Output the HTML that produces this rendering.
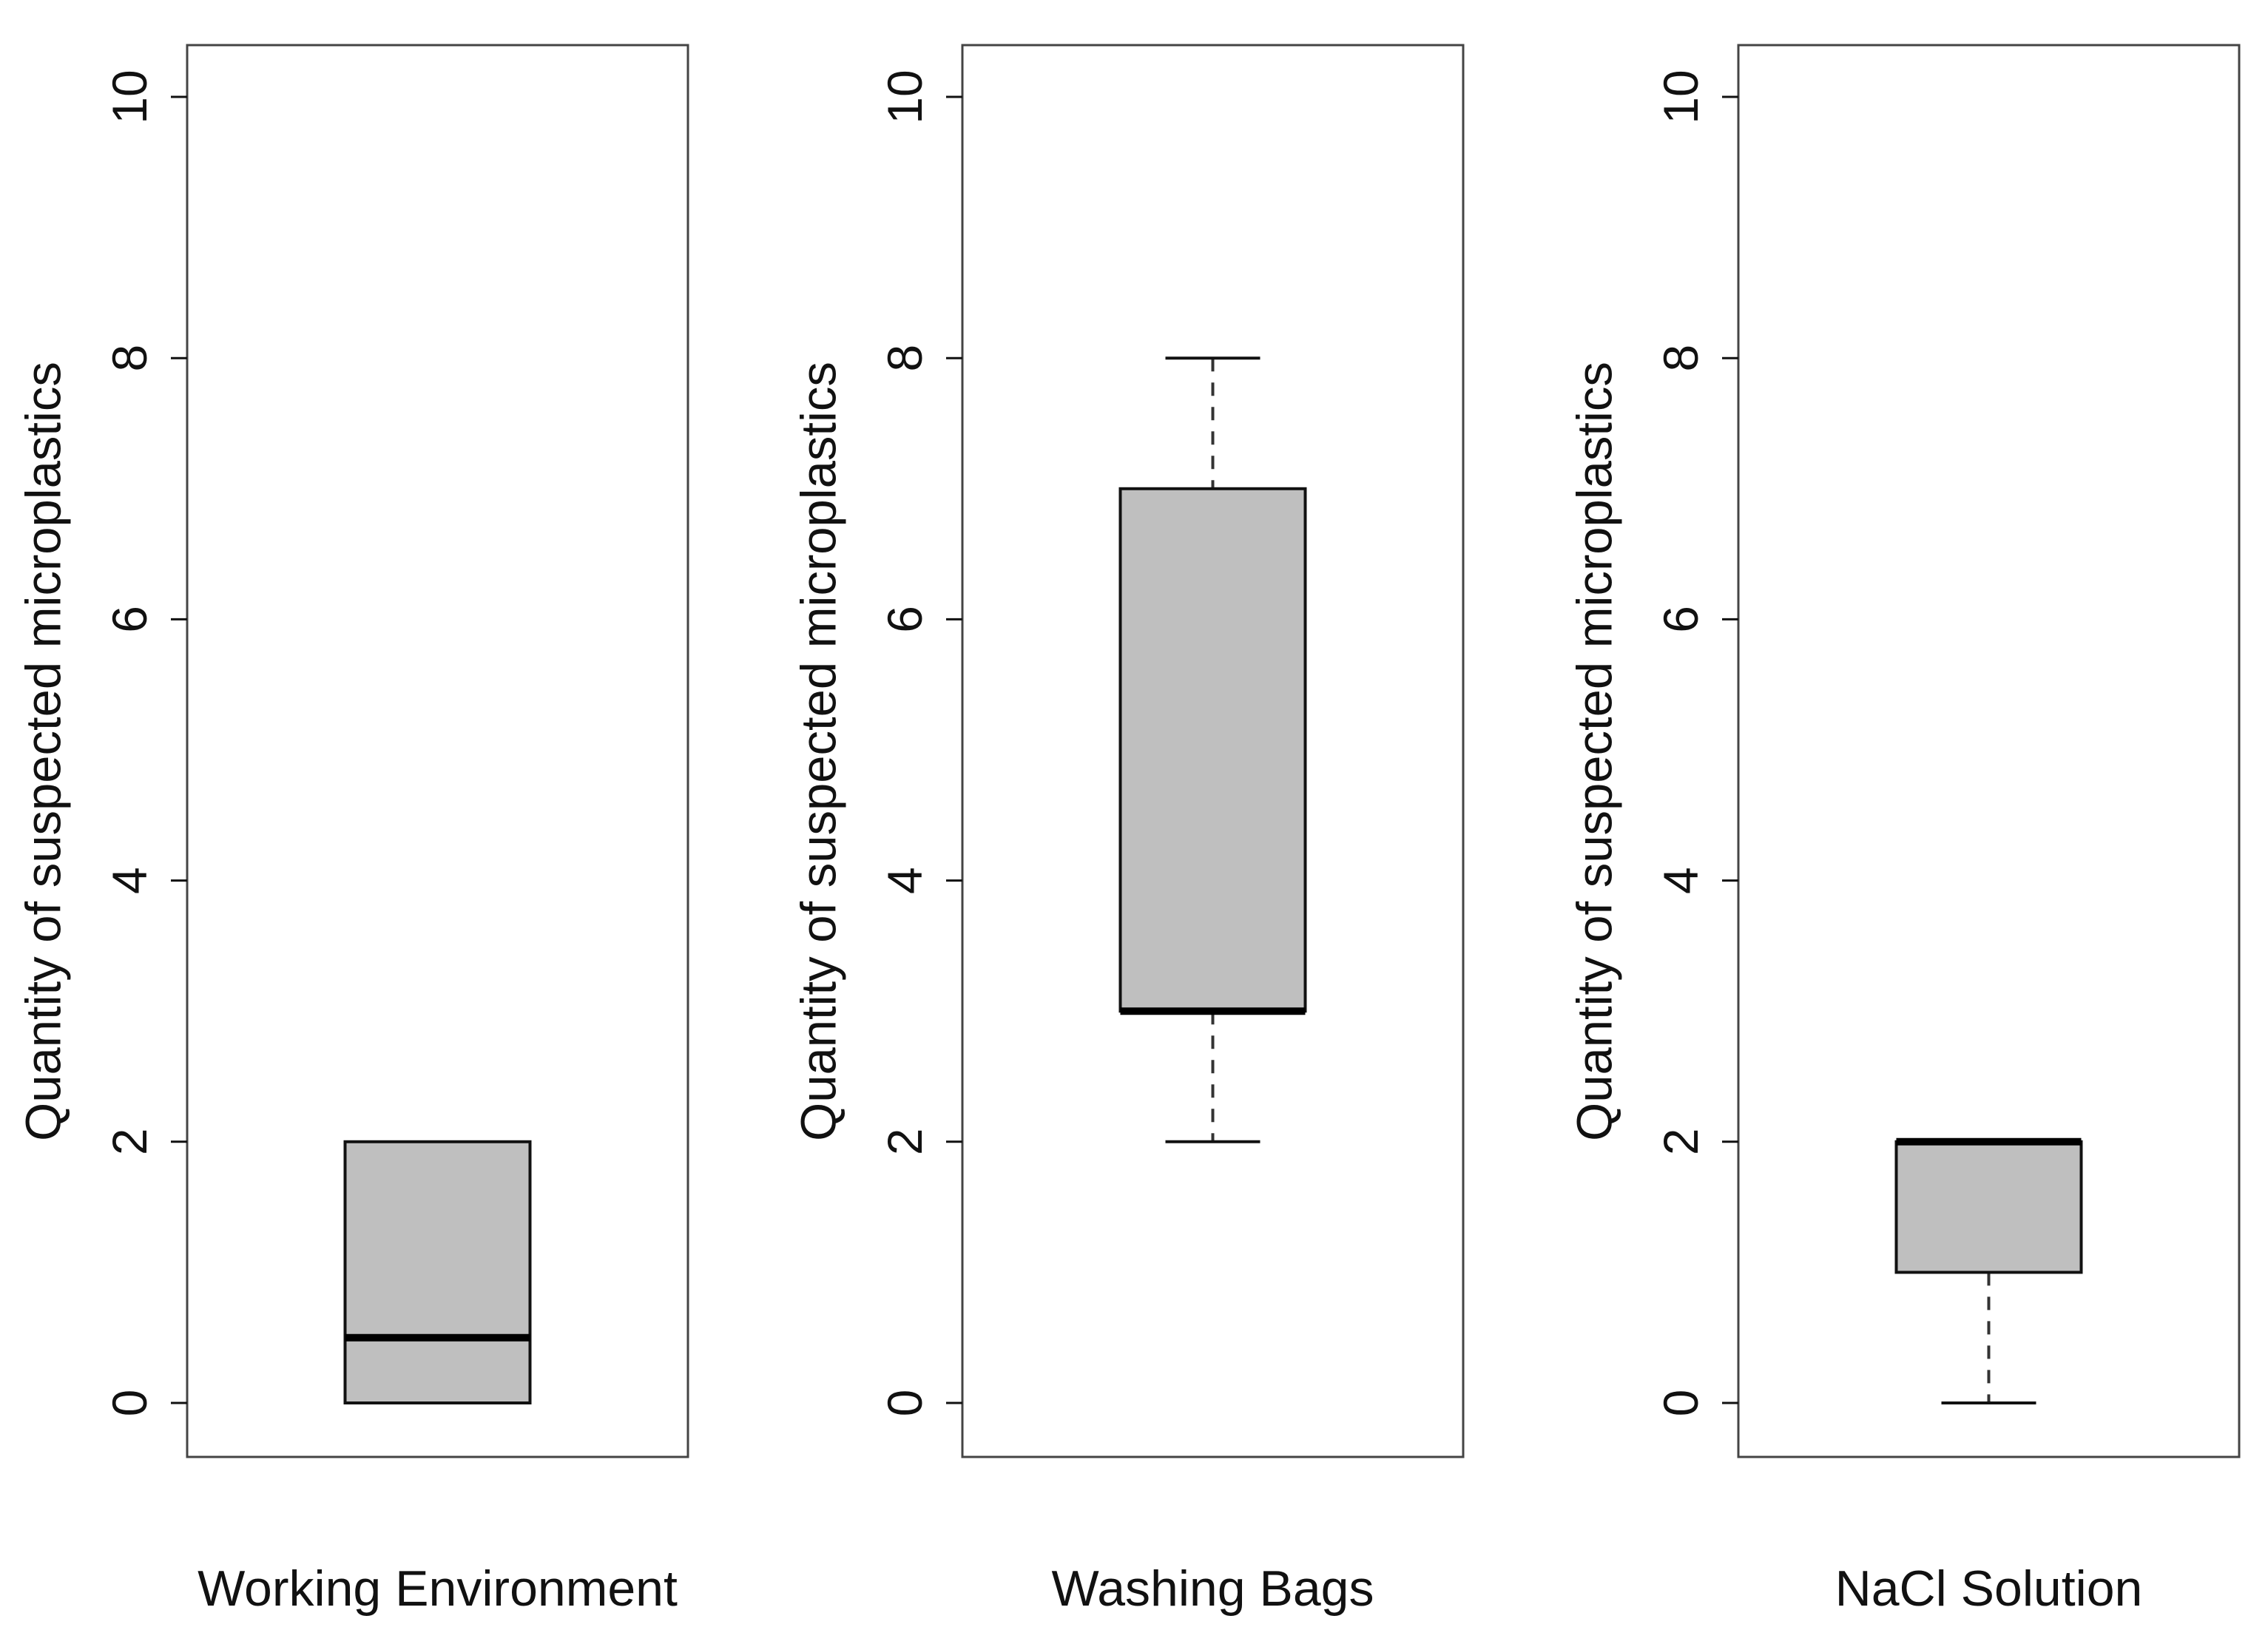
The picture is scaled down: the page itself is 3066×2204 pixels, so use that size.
<!DOCTYPE html>
<html><head><meta charset="utf-8"><style>
html,body{margin:0;padding:0;background:#fff;}
svg{display:block;}
text{font-family:"Liberation Sans",Arial,sans-serif;fill:#111;}
</style></head><body>
<svg id="chart" width="3066" height="2204" viewBox="0 0 3066 2204" xmlns="http://www.w3.org/2000/svg"></svg>
<script>
const categories = ["Working Environment", "Washing Bags", "NaCl Solution"];
const mins = [0, 2, 0];
const q1s = [0, 3, 1];
const medians = [0.5, 3, 2];
const q3s = [2, 7, 2];
const maxs = [2, 8, 2];
const yTicks = [0, 2, 4, 6, 8, 10];
const yTitle = "Quantity of suspected microplastics";

const NS = "http://www.w3.org/2000/svg";
const svg = document.getElementById('chart');
const panelLefts = [253, 1301, 2350];
const panelW = 677, plotTop = 61, plotBottom = 1970;
function yScale(v){ return 1897 - v * (1897 - 131) / 10; }
function mk(tag, attrs, parent){
  const e = document.createElementNS(NS, tag);
  for (const k in attrs) e.setAttribute(k, attrs[k]);
  (parent || svg).appendChild(e);
  return e;
}
categories.forEach((cat, i) => {
  const L = panelLefts[i], cx = L + panelW / 2;
  const g = mk('g', {});
  
  
  const frame = mk('rect', {x: L, y: plotTop, width: panelW, height: plotBottom - plotTop, fill: 'none', stroke: '#444', 'stroke-width': 3}, g);
  
  
  yTicks.forEach(t => {
    const y = yScale(t);
    const tk = mk('line', {x1: L - 22, x2: L, y1: y, y2: y, stroke: '#111', 'stroke-width': 3}, g);
    
    
    const tl = mk('text', {x: L - 78, y: y, 'font-size': 66, 'text-anchor': 'middle', 'dominant-baseline': 'central', transform: `rotate(-90 ${L - 78} ${y})`}, g);
    tl.textContent = t;
    
    
  });
  const yt = mk('text', {x: L - 194, y: 1016, 'font-size': 67, 'text-anchor': 'middle', 'dominant-baseline': 'central', transform: `rotate(-90 ${L - 194} 1016)`}, g);
  yt.textContent = yTitle;
  
  
  const xl = mk('text', {x: cx, y: 2171, 'font-size': 68, 'text-anchor': 'middle'}, g);
  xl.textContent = cat;
  
  
  if (maxs[i] > q3s[i]) {
    const w = mk('line', {x1: cx, x2: cx, y1: yScale(maxs[i]), y2: yScale(q3s[i]), stroke: '#333', 'stroke-width': 4, 'stroke-dasharray': '18 15'}, g);
    
    
    const c = mk('line', {x1: cx - 64, x2: cx + 64, y1: yScale(maxs[i]), y2: yScale(maxs[i]), stroke: '#111', 'stroke-width': 4}, g);
    
    
  }
  if (mins[i] < q1s[i]) {
    const w = mk('line', {x1: cx, x2: cx, y1: yScale(q1s[i]), y2: yScale(mins[i]), stroke: '#333', 'stroke-width': 4, 'stroke-dasharray': '18 15'}, g);
    
    
    const c = mk('line', {x1: cx - 64, x2: cx + 64, y1: yScale(mins[i]), y2: yScale(mins[i]), stroke: '#111', 'stroke-width': 4}, g);
    
    
  }
  const b = mk('rect', {x: cx - 125, y: yScale(q3s[i]), width: 250, height: yScale(q1s[i]) - yScale(q3s[i]), fill: '#bfbfbf', stroke: '#111', 'stroke-width': 4}, g);
  
  
  const m = mk('line', {x1: cx - 125, x2: cx + 125, y1: yScale(medians[i]), y2: yScale(medians[i]), stroke: '#000', 'stroke-width': 10}, g);
  
  
});
</script>
</body></html>
